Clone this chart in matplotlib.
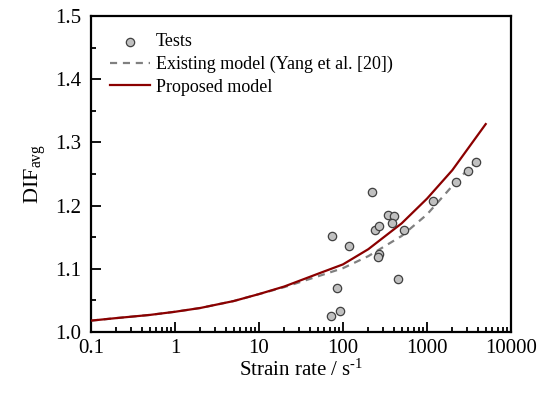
import numpy as np
import matplotlib
matplotlib.use("Agg")
import matplotlib.pyplot as plt
from matplotlib.ticker import LogLocator, MultipleLocator, FixedLocator, FixedFormatter

plt.rcParams['font.family'] = 'Liberation Serif'
plt.rcParams['mathtext.fontset'] = 'custom'
plt.rcParams['mathtext.rm'] = 'Liberation Serif'
plt.rcParams['mathtext.it'] = 'Liberation Serif:italic'

# test data (strain rate, DIF)
test_rate = [220, 74.6, 118, 238, 270, 347, 401, 383, 532, 266, 259, 448, 85, 92, 72,
             1178, 2193, 3076, 3830]
test_dif = [1.221, 1.152, 1.136, 1.161, 1.168, 1.185, 1.184, 1.172, 1.161, 1.123, 1.118,
            1.084, 1.070, 1.034, 1.026, 1.208, 1.237, 1.255, 1.269]

# existing model (Yang et al.)
yang_rate = [0.1, 0.2, 0.5, 1, 2, 5, 10, 20, 50, 100, 200, 500, 1000, 2000, 3000, 4000]
yang_dif = [1.018, 1.022, 1.027, 1.032, 1.038, 1.049, 1.060, 1.071, 1.088, 1.101, 1.120,
            1.152, 1.186, 1.231, 1.256, 1.272]

# proposed model
prop_rate = [0.1, 0.2, 0.5, 1, 2, 5, 10, 20, 50, 100, 200, 500, 1000, 2000, 5000]
prop_dif = [1.018, 1.022, 1.027, 1.032, 1.038, 1.049, 1.060, 1.072, 1.092, 1.107, 1.131,
            1.172, 1.211, 1.256, 1.329]

fig = plt.figure(figsize=(5.4, 3.94), dpi=100)
ax = fig.add_axes([91/540, 62/394, 420/540, 316/394])

ax.plot(yang_rate, yang_dif, color='#808080', lw=1.6, ls=(0, (3.2, 2.6)),
        label='Existing model (Yang et al. [20])', zorder=2)
ax.plot(prop_rate, prop_dif, color='#8b0000', lw=1.6, label='Proposed model', zorder=3)
ax.scatter(test_rate, test_dif, s=36, facecolor='#c0c0c0', edgecolor='#404040',
           linewidth=0.9, label='Tests', zorder=4)

ax.set_xscale('log')
ax.set_xlim(0.1, 10000)
ax.set_ylim(1.0, 1.5)
ax.xaxis.set_major_locator(FixedLocator([0.1, 1, 10, 100, 1000, 10000]))
ax.xaxis.set_major_formatter(FixedFormatter(['0.1', '1', '10', '100', '1000', '10000']))
ax.xaxis.set_minor_locator(LogLocator(base=10, subs=np.arange(2, 10), numticks=20))
ax.xaxis.set_minor_formatter(FixedFormatter([]))
ax.yaxis.set_major_locator(MultipleLocator(0.1))
ax.yaxis.set_minor_locator(MultipleLocator(0.05))
ax.set_yticklabels([f'{v:.1f}' for v in ax.get_yticks()])

ax.tick_params(which='both', direction='in', top=False, right=False, labelsize=15, width=1.3)
ax.tick_params(which='major', length=7)
ax.tick_params(axis='y', which='major', pad=7)
ax.tick_params(axis='x', which='major', pad=5)
ax.tick_params(which='minor', length=3.5)
for s in ax.spines.values():
    s.set_linewidth(1.6)

ax.set_xlabel('Strain rate / s$^{\\text{-1}}$', fontsize=15, labelpad=1)
ax.set_ylabel('DIF$_{\\mathrm{avg}}$', fontsize=16, labelpad=5)

h, l = ax.get_legend_handles_labels()
order = [2, 0, 1]
ax.legend([h[i] for i in order], [l[i] for i in order], loc='upper left', frameon=False,
          fontsize=13, handlelength=2.2, handletextpad=0.35, labelspacing=0.3,
          borderaxespad=0.3, bbox_to_anchor=(0.015, 0.985))

fig.savefig('out.png', dpi=100)
